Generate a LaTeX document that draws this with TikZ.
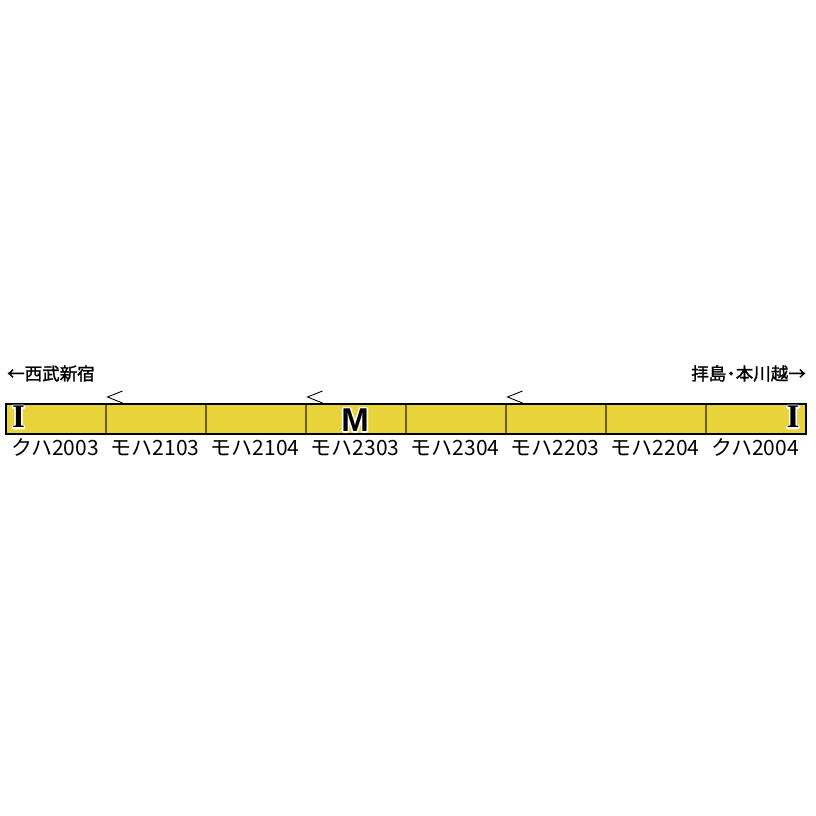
\documentclass[tikz,border=0pt]{standalone}
\usepackage{fontspec}
\setmainfont{Noto Sans CJK JP}
\newfontfamily\jpb{Noto Sans CJK JP}[FakeBold=1.5]
\newfontfamily\serifb{Liberation Serif}[UprightFont=*,BoldFont=* Bold]
\newfontfamily\sansb{Liberation Sans}[UprightFont=*,BoldFont=* Bold]
\newcommand{\haloed}[1]{\rlap{\color{white}\special{pdf:code q 2 Tr 3 w 1 1 1 RG 1 j}#1\special{pdf:code Q}}#1}
\definecolor{carfill}{HTML}{E8D43A}
\definecolor{divline}{HTML}{6E5E16}
\begin{document}
\begin{tikzpicture}[x=1pt,y=-1pt,
  carno/.style={font=\fontsize{21}{21}\selectfont,anchor=base,inner sep=0pt},
  dest/.style={font=\jpb\fontsize{17.5}{18}\selectfont,inner sep=0pt},
  sigI/.style={font=\serifb\bfseries\fontsize{33}{33}\selectfont,inner sep=0pt},
  sigM/.style={font=\sansb\bfseries\fontsize{33}{33}\selectfont,inner sep=0pt},
  chev/.style={draw=black,line width=0.9pt}]
\useasboundingbox (0,0) rectangle (816,816);
% train body
\fill[carfill] (6,404) rectangle (806,434);
\foreach \i in {1,...,7} {
  \draw[divline,line width=1.3pt] (6+\i*100,404) -- (6+\i*100,434);
}
\draw[black,line width=1.1pt] (6,404) rectangle (806,434);
% car numbers
\foreach \n/\t in {0/クハ2003,1/モハ2103,2/モハ2104,3/モハ2303,4/モハ2304,5/モハ2203,6/モハ2204,7/クハ2004} {
  \node[carno] (c\n) at (55+\n*100,455) {\t};
}
% destinations
\node[dest,anchor=west] (west) at (7,373.5) {←西武新宿};
\node[dest,anchor=east] (east) at (806,373.5) {拝島\kern-4pt・\kern-4pt本川越→};
% chevrons
\foreach \x in {115,315,515} {
  \draw[chev] (\x+7.5,391) -- (\x-7.5,397) -- (\x+7.5,403);
}
% marks
\node[sigI] (iL) at (18.5,417) {\haloed{I}};
\node[sigI] (iR) at (793,417) {\haloed{I}};
\node[sigM] (mm) at (355,420) {\haloed{M}};
\end{tikzpicture}
\end{document}
